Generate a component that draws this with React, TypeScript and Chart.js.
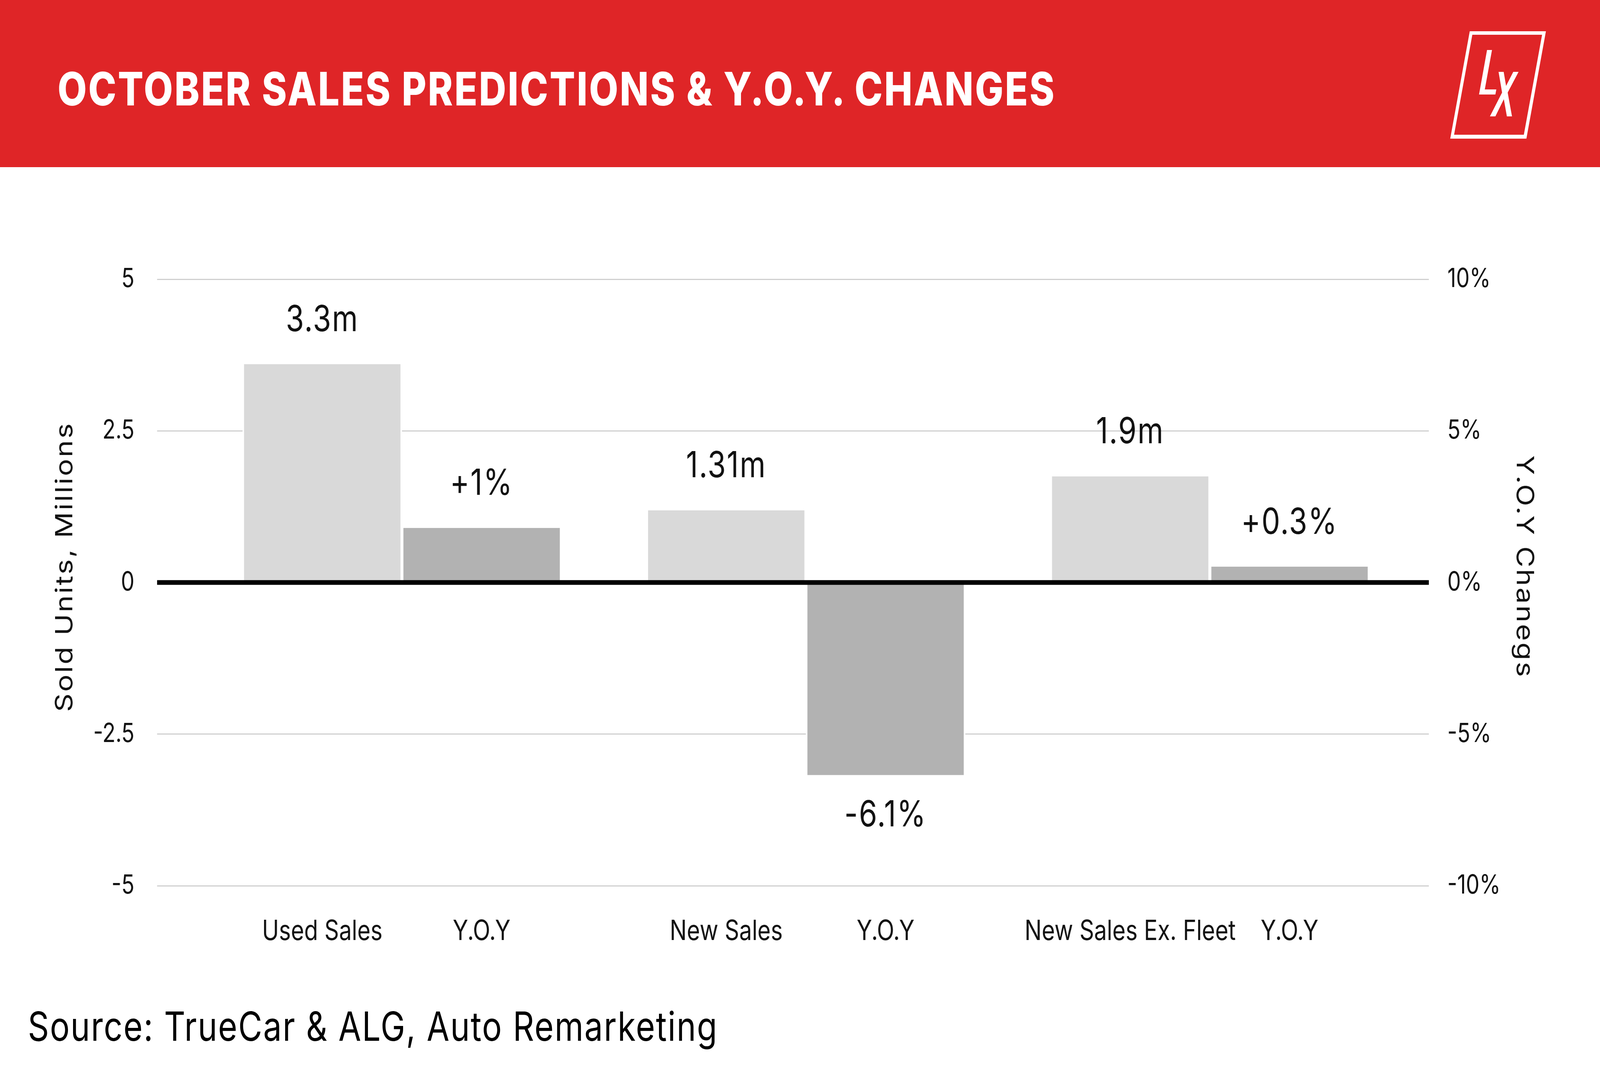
import React, { useEffect, useRef, useState } from 'react';
import { Chart, registerables } from 'chart.js';

Chart.register(...registerables);

// categories and values
const groups = ['Used Sales', 'New Sales', 'New Sales Ex. Fleet'];
const yoyName = 'Y.O.Y';
const salesMillions = [3.6, 1.19, 1.75];
const yoyPercent = [1.8, -6.35, 0.52];
const salesText = ['3.3m', '1.31m', '1.9m'];
const yoyText = ['+1%', '-6.1%', '+0.3%'];
const unitTicks = [-5, -2.5, 0, 2.5, 5];
const percentTicks = [-10, -5, 0, 5, 10];

const FONT = 'Inter, "Open Sans", sans-serif';

// the artwork is laid out on a 5000 x 2727 board
const BOARD_W = 5000;
const BOARD_H = 2727;

const overlayPlugin = {
    id: 'overlay',
    afterDatasetsDraw(chart: any) {
        const { ctx, chartArea, scales } = chart;
        const y0 = scales.y.getPixelForValue(0);

        ctx.save();
        // heavy zero line on top of the bars
        ctx.fillStyle = '#000000';
        ctx.fillRect(chartArea.left, y0 - 6, chartArea.right - chartArea.left, 12);

        ctx.fillStyle = '#111111';
        ctx.textAlign = 'center';
        ctx.textBaseline = 'middle';

        chart.data.datasets.forEach((ds: any, di: number) => {
            const meta = chart.getDatasetMeta(di);
            const values = di === 0 ? salesMillions : yoyPercent;
            const texts = di === 0 ? salesText : yoyText;
            meta.data.forEach((bar: any, i: number) => {
                // value label
                ctx.font = `92px ${FONT}`;
                ctx.letterSpacing = '3px';
                const y = values[i] >= 0 ? bar.y - 112 : bar.y + 104;
                ctx.fillText(texts[i], bar.x, y);
                // category label under the plot
                ctx.font = `71px ${FONT}`;
                ctx.letterSpacing = '0px';
                ctx.fillText(di === 0 ? groups[i] : yoyName, bar.x, chartArea.bottom + 118);
            });
        });

        // axis titles
        const midY = (chartArea.top + chartArea.bottom) / 2 - 40;
        ctx.font = `74px ${FONT}`;
        ctx.letterSpacing = '4px';
        ctx.textBaseline = 'alphabetic';

        ctx.save();
        ctx.translate(226, midY);
        ctx.rotate(-Math.PI / 2);
        ctx.fillText('Sold Units, Millions', 0, 0);
        ctx.restore();

        ctx.save();
        ctx.translate(4740, midY);
        ctx.rotate(Math.PI / 2);
        ctx.fillText('Y.O.Y Chanegs', 0, 0);
        ctx.restore();

        ctx.letterSpacing = '0px';
        ctx.restore();
    },
};

const SalesChart: React.FC = () => {
    const canvasRef = useRef<HTMLCanvasElement | null>(null);
    const chartRef = useRef<Chart | null>(null);

    useEffect(() => {
        if (!canvasRef.current) return;
        if (chartRef.current) chartRef.current.destroy();

        const barStyle = {
            barThickness: 498,
            borderColor: '#ffffff',
            borderWidth: { left: 5, right: 5, top: 0, bottom: 0 },
            borderSkipped: false,
        };

        chartRef.current = new Chart(canvasRef.current, {
            type: 'bar',
            data: {
                datasets: [
                    {
                        label: 'Sales',
                        data: salesMillions.map((v, i) => ({ x: i, y: v })),
                        yAxisID: 'y',
                        backgroundColor: '#d9d9d9',
                        ...barStyle,
                    },
                    {
                        label: 'Y.O.Y',
                        data: yoyPercent.map((v, i) => ({ x: i, y: v })),
                        yAxisID: 'y1',
                        backgroundColor: '#b2b2b2',
                        ...barStyle,
                    },
                ] as any,
            },
            options: {
                animation: false,
                responsive: false,
                devicePixelRatio: 1,
                events: [],
                layout: { padding: { top: 287, bottom: 272, left: 0, right: 0 } },
                plugins: {
                    legend: { display: false },
                    tooltip: { enabled: false },
                },
                scales: {
                    x: {
                        type: 'linear',
                        display: false,
                        offset: false,
                        min: -0.606,
                        max: 2.542,
                    },
                    y: {
                        position: 'left',
                        min: -5,
                        max: 5,
                        afterBuildTicks: (s: any) => {
                            s.ticks = unitTicks.map((v) => ({ value: v }));
                        },
                        afterFit: (s: any) => {
                            s.width = 491;
                        },
                        border: { display: false },
                        grid: {
                            drawTicks: false,
                            lineWidth: 3,
                            color: (c: any) => (c.tick && c.tick.value === 0 ? 'rgba(0,0,0,0)' : '#d0d0d0'),
                        },
                        ticks: {
                            padding: 71,
                            color: '#111111',
                            font: { family: FONT, size: 67 },
                        },
                    },
                    y1: {
                        position: 'right',
                        min: -10,
                        max: 10,
                        afterBuildTicks: (s: any) => {
                            s.ticks = percentTicks.map((v) => ({ value: v }));
                        },
                        afterFit: (s: any) => {
                            s.width = 535;
                        },
                        border: { display: false },
                        grid: { display: false, drawTicks: false },
                        ticks: {
                            padding: 58,
                            color: '#111111',
                            font: { family: FONT, size: 67 },
                            callback: (v: any) => `${v}%`,
                        },
                    },
                },
            } as any,
            plugins: [overlayPlugin],
        });

        return () => {
            if (chartRef.current) {
                chartRef.current.destroy();
                chartRef.current = null;
            }
        };
    }, []);

    return (
        <div style={{ position: 'absolute', left: 0, top: 428, width: BOARD_W, height: 2112 }}>
            <canvas ref={canvasRef} width={BOARD_W} height={2112} style={{ width: BOARD_W, height: 2112 }}></canvas>
        </div>
    );
};

const App: React.FC = () => {
    const [fit, setFit] = useState({ sx: 1, sy: 1 });

    useEffect(() => {
        // the window can be narrower than the board: stretch the board to fill it
        document.body.style.margin = '0';
        document.body.style.overflow = 'hidden';
        setFit({
            sx: Math.min(1, window.innerWidth / BOARD_W),
            sy: Math.min(1, window.innerHeight / BOARD_H),
        });
    }, []);

    return (
        <div
            style={{
                position: 'absolute',
                left: 0,
                top: 0,
                width: BOARD_W,
                height: BOARD_H,
                background: '#ffffff',
                overflow: 'hidden',
                transform: `scale(${fit.sx}, ${fit.sy})`,
                transformOrigin: '0 0',
            }}
        >
            <svg
                width={BOARD_W}
                height={BOARD_H}
                viewBox={`0 0 ${BOARD_W} ${BOARD_H}`}
                style={{ position: 'absolute', left: 0, top: 0 }}
            >
                <rect x={0} y={0} width={BOARD_W} height={428} fill="#df2527" />
                <text
                    x={180}
                    y={270}
                    fill="#ffffff"
                    fontFamily={FONT}
                    fontWeight={800}
                    fontSize={118}
                    textLength={3115}
                    lengthAdjust="spacing"
                >
                    OCTOBER SALES PREDICTIONS &amp; Y.O.Y. CHANGES
                </text>
                {/* LX logo */}
                <path
                    fill="#ffffff"
                    fillRule="evenodd"
                    d="M4593 80 L4831 80 L4770 355 L4532 355 Z M4601 89 L4819 89 L4762 345 L4544 345 Z"
                />
                <path
                    fill="#ffffff"
                    d="M4647 128 L4662.5 128 L4640 229 L4676 229 L4673 242 L4622 242 Z"
                />
                <path
                    fill="#ffffff"
                    d="M4683 184 L4699 184 L4706.5 220 L4729 184 L4745.5 184 L4711.5 237 L4725 298 L4709 298 L4699.5 254 L4673 298 L4656 298 L4694 237 Z"
                />
                <text
                    x={87}
                    y={2665}
                    fill="#000000"
                    fontFamily={FONT}
                    fontSize={103}
                    textLength={2154}
                    lengthAdjust="spacing"
                >
                    Source: TrueCar &amp; ALG, Auto Remarketing
                </text>
            </svg>
            <SalesChart />
        </div>
    );
};

export default App;
